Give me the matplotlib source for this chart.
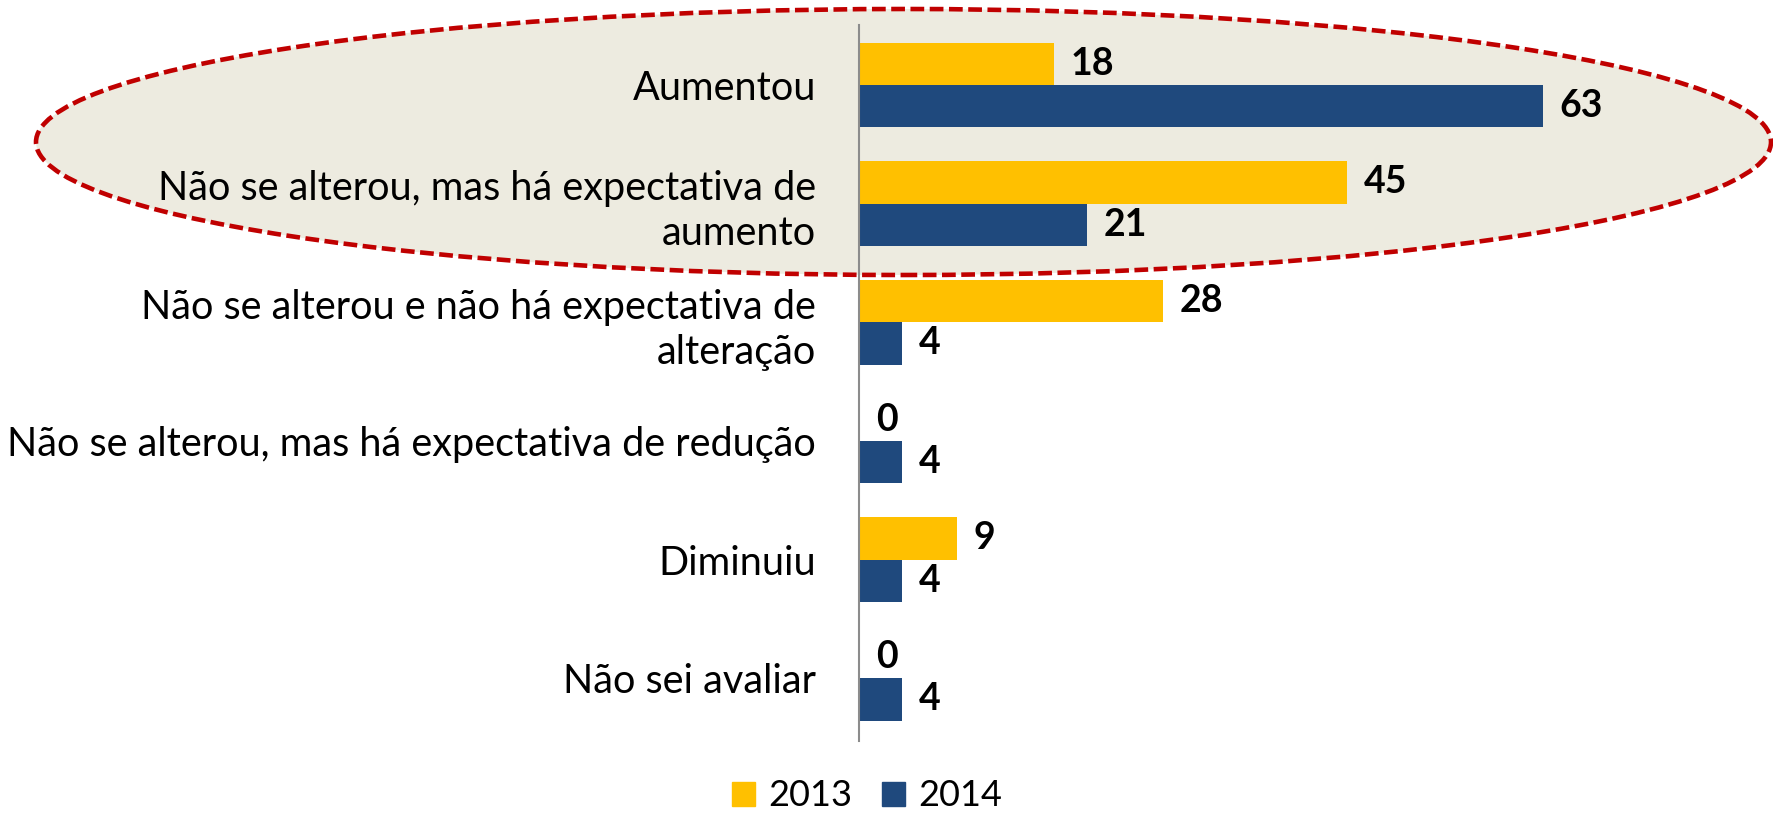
import numpy as np
import matplotlib
matplotlib.use('Agg')
import matplotlib.pyplot as plt
from matplotlib.patches import Ellipse, Patch

categories = [
    'Aumentou',
    'Não se alterou, mas há expectativa de\naumento',
    'Não se alterou e não há expectativa de\nalteração',
    'Não se alterou, mas há expectativa de redução',
    'Diminuiu',
    'Não sei avaliar',
]
vals_2013 = [18, 45, 28, 0, 9, 0]
vals_2014 = [63, 21, 4, 4, 4, 4]
series_names = ['2013', '2014']

col_2013 = '#FFC000'
col_2014 = '#1F497D'
W, H = 1773, 815
plt.rcParams['font.family'] = ['Lato', 'DejaVu Sans']

fig = plt.figure(figsize=(W / 100, H / 100), dpi=100)

# highlight ellipse (figure pixels -> fraction)
ell = Ellipse(((36 + 1771) / 2 / W, 1 - 142 / H), (1771 - 36) / W, 266 / H,
              transform=fig.transFigure, facecolor='#EDEBE0', edgecolor='#C00000',
              linewidth=3.3, linestyle=(0, (3, 1.2)), zorder=-1)
fig.patches.append(ell)

x0 = 859
ax = fig.add_axes([x0 / W, 1 - 741 / H, (W - x0) / W, (741 - 25) / H])
ax.patch.set_alpha(0)
y = np.arange(len(categories))
h = 0.358
ax.barh(y - h / 2, vals_2013, height=h, color=col_2013, label=series_names[0])
ax.barh(y + h / 2, vals_2014, height=h, color=col_2014, label=series_names[1])

ax.set_xlim(0, (W - x0) / 10.85)
ax.set_ylim(5.53, -0.506)
for i in range(len(categories)):
    ax.annotate(str(vals_2013[i]), (vals_2013[i], y[i] - h / 2), xytext=(12, 0),
                textcoords='offset points', va='center', ha='left',
                fontsize=27, fontweight='bold')
    ax.annotate(str(vals_2014[i]), (vals_2014[i], y[i] + h / 2), xytext=(12, 0),
                textcoords='offset points', va='center', ha='left',
                fontsize=27, fontweight='bold')

ax.set_yticks(y)
ax.set_yticklabels(categories, fontsize=28.5, ha='right', linespacing=1.27)
ax.tick_params(axis='y', length=0, pad=31)
ax.set_xticks([])
for s in ['top', 'right', 'bottom']:
    ax.spines[s].set_visible(False)
ax.spines['left'].set_color('#8C8C8C')
ax.spines['left'].set_linewidth(1.5)

handles = [Patch(color=col_2013), Patch(color=col_2014)]
fig.legend(handles, series_names, loc='center', bbox_to_anchor=(867 / W, 1 - 796 / H),
           ncol=2, frameon=False, fontsize=26, handlelength=0.64, handleheight=0.64,
           handletextpad=0.37, columnspacing=0.8, borderpad=0.1)

fig.savefig('out.png', dpi=100)
